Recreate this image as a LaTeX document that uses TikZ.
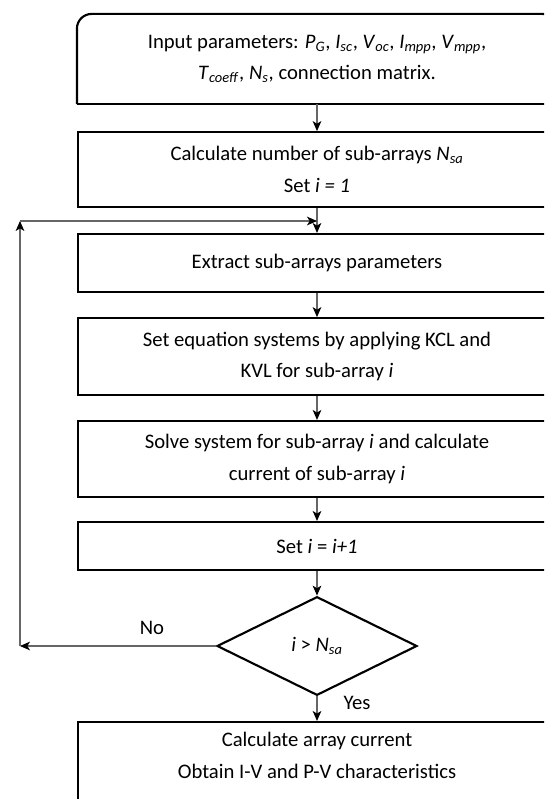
\documentclass[tikz,border=0pt]{standalone}
\usepackage{fontspec}
\setmainfont{Carlito}
\usetikzlibrary{arrows.meta,shapes.geometric}
\newcommand{\sub}[2]{\textit{#1}\textsubscript{\textit{#2}}}
\begin{document}
\begin{tikzpicture}[x=0.75pt,y=-0.75pt,
		box/.style={draw,line width=1.6pt,minimum width=358.5pt,align=center,inner sep=2pt,font=\fontsize{15.5}{23.5}\selectfont},
		decide/.style={draw,line width=1.6pt,diamond,minimum width=150pt,minimum height=74pt,inner sep=0pt,font=\fontsize{15.5}{23.5}\selectfont},
		conn/.style={black!60,line width=0.8pt,-{Stealth[black,length=7.5pt,width=6.5pt,inset=2pt]}},
		lbl/.style={font=\fontsize{15.5}{23.5}\selectfont}]
	\useasboundingbox (0,0) rectangle (544,799) ;
	\clip (0,0) rectangle (544,799) ;
		\node[box,draw=none,minimum height=66pt] (in) at (317,59) {Input parameters: \sub{P}{G}, \sub{I}{sc}, \sub{V}{oc}, \sub{I}{mpp}, \sub{V}{mpp},\\ \sub{T}{coeff}, \sub{N}{s}, connection matrix.} ;
		\draw[line width=1.6pt,rounded corners=11pt] (in.south west) -- (in.north west) -- (in.north east) -- (in.south east) ;
		\draw[line width=1.6pt] (in.south west) -- (in.south east) ;
		\node[box,minimum height=56pt] (nsa) at (317,169.5) {Calculate number of sub-arrays \sub{N}{sa}\\ Set \textit{i = 1}} ;
		\node[box,minimum height=43.5pt] (ext) at (317,263) {Extract sub-arrays parameters} ;
		\node[box,minimum height=57.5pt] (kcl) at (317,356.5) {Set equation systems by applying KCL and\\ KVL for sub-array \textit{i}} ;
		\node[box,minimum height=57pt] (sol) at (317,459) {Solve system for sub-array \textit{i} and calculate\\ current of sub-array \textit{i}} ;
		\node[box,minimum height=36pt] (inc) at (317,546) {Set \textit{i} = \textit{i+1}} ;
		\node[decide] (dec) at (317,646) {\textit{i} > \sub{N}{sa}} ;
		\node[box,minimum height=75pt,text depth=25pt] (out) at (317,772) {Calculate array current\\ Obtain I-V and P-V characteristics} ;
		\coordinate (lb) at (20,646) ;
		\coordinate (lt) at (20,221) ;
		\coordinate (jn) at (317,221) ;
		\draw[conn] (in) -- (nsa) ;
		\draw[conn] (nsa) -- (ext) ;
		\draw[conn] (ext) -- (kcl) ;
		\draw[conn] (kcl) -- (sol) ;
		\draw[conn] (sol) -- (inc) ;
		\draw[conn] (inc) -- (dec) ;
		\draw[conn] (dec) -- (out) ;
		\draw[conn] (dec.west) -- (lb) ;
		\draw[conn] (lb) -- (lt) ;
		\draw[conn] (lt) -- (jn) ;
		\node[lbl] (no) at (152,628) {No} ;
		\node[lbl] (yes) at (357,703) {Yes} ;
\end{tikzpicture}
\end{document}
